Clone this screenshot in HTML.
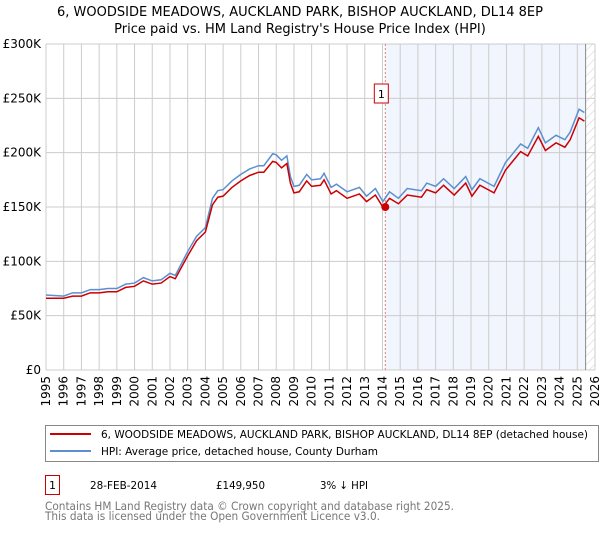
<!DOCTYPE html>
<html><head><meta charset="utf-8"><style>
body{margin:0;background:#fff;font-family:"DejaVu Sans","Liberation Sans",sans-serif;}
svg text{font-family:"DejaVu Sans","Liberation Sans",sans-serif;}
</style></head><body>
<svg id="c" width="600" height="530" viewBox="0 0 600 530" xmlns="http://www.w3.org/2000/svg">
<defs><pattern id="hatch" width="6" height="6" patternUnits="userSpaceOnUse" patternTransform="rotate(45)"><line x1="0" y1="0" x2="0" y2="6" stroke="#ccc" stroke-width="1"/></pattern></defs>
<text x="300" y="16" text-anchor="middle" font-size="13">6, WOODSIDE MEADOWS, AUCKLAND PARK, BISHOP AUCKLAND, DL14 8EP</text>
<text x="300" y="33" text-anchor="middle" font-size="13">Price paid vs. HM Land Registry's House Price Index (HPI)</text>
<g id="plot"></g>
<g>
<rect x="45.5" y="425.5" width="553" height="36" fill="#fff" stroke="#888"/>
<line x1="50" y1="434" x2="91" y2="434" stroke="#cc0000" stroke-width="2"/>
<text x="101" y="438" font-size="11" textLength="487" lengthAdjust="spacingAndGlyphs">6, WOODSIDE MEADOWS, AUCKLAND PARK, BISHOP AUCKLAND, DL14 8EP (detached house)</text>
<line x1="50" y1="451" x2="91" y2="451" stroke="#5b8fd0" stroke-width="2"/>
<text x="101" y="455" font-size="11" textLength="277" lengthAdjust="spacingAndGlyphs">HPI: Average price, detached house, County Durham</text>
</g>
<g>
<rect x="45.5" y="475.5" width="14" height="19" fill="#fff" stroke="#cc0000"/>
<text x="52.5" y="489" text-anchor="middle" font-size="11">1</text>
<text x="90" y="489" font-size="11" textLength="67" lengthAdjust="spacingAndGlyphs">28-FEB-2014</text>
<text x="216" y="489" font-size="11" textLength="49" lengthAdjust="spacingAndGlyphs">£149,950</text>
<text x="320" y="489" font-size="11" textLength="48" lengthAdjust="spacingAndGlyphs">3% ↓ HPI</text>
</g>
<text x="45" y="510" font-size="11.5" fill="#777" textLength="409" lengthAdjust="spacingAndGlyphs">Contains HM Land Registry data © Crown copyright and database right 2025.</text>
<text x="45" y="520" font-size="11.5" fill="#777" textLength="335" lengthAdjust="spacingAndGlyphs">This data is licensed under the Open Government Licence v3.0.</text>
</svg>
<script>
const yTicks=[0,50000,100000,150000,200000,250000,300000];
const yTickLabels=["£0","£50K","£100K","£150K","£200K","£250K","£300K"];
const xTicks=[1995,1996,1997,1998,1999,2000,2001,2002,2003,2004,2005,2006,2007,2008,2009,2010,2011,2012,2013,2014,2015,2016,2017,2018,2019,2020,2021,2022,2023,2024,2025,2026];
const seriesYears=[1995,1996,1996.5,1997,1997.5,1998,1998.5,1999,1999.5,2000,2000.5,2001,2001.5,2002,2002.3,2003,2003.5,2004,2004.4,2004.7,2005,2005.5,2006,2006.5,2007,2007.3,2007.8,2008,2008.3,2008.6,2008.8,2009,2009.3,2009.72,2010,2010.5,2010.7,2011.1,2011.4,2012,2012.7,2013.1,2013.6,2014.02,2014.4,2014.9,2015.4,2016.2,2016.5,2017,2017.45,2018.05,2018.7,2019.05,2019.5,2020.3,2020.95,2021.4,2021.8,2022.2,2022.8,2023.2,2023.8,2024.3,2024.6,2025.1,2025.4];
const hpiValues=[69,68,71,71,74,74,75,75,79,80,85,82,83,89,87,109,123,131,158,165,166,174,180,185,188,188,199,198,193,197,178,169,170,180,175,176,181,168,171,164,168,160,167,155,164,158,167,165,172,169,176,167,178,166,176,169,191,200,208,204,223,209,216,212,219,240,237];
const priceValues=[66,66,68,68,71,71,72,72,76,77,82,79,80,86,84,105,119,127,152,159,160,168,174,179,182,182,192,191,186,190,172,163,164,174,169,170,175,162,165,158,162,155,161,150,158,153,161,159,166,163,170,161,172,160,170,163,184,193,201,197,215,202,209,205,212,232,229];
const saleYear=2014.16, saleValue=149950, saleLabel="1";
const X0=46,X1=595,Y0=370,Y1=44,XMIN=1995,XMAX=2026,YMAX=300000,DATA_END=2025.47;
const xs=v=>X0+(v-XMIN)/(XMAX-XMIN)*(X1-X0);
const ys=v=>Y0-v/YMAX*(Y0-Y1);
const NS="http://www.w3.org/2000/svg";
const g=document.getElementById('plot');
function mk(t,a){const e=document.createElementNS(NS,t);for(const k in a)e.setAttribute(k,a[k]);g.appendChild(e);return e;}
let e;
e=mk('rect',{x:xs(saleYear),y:Y1,width:xs(DATA_END)-xs(saleYear),height:Y0-Y1,fill:'#eef3fc',opacity:0.8});


e=mk('rect',{x:xs(DATA_END),y:Y1,width:X1-xs(DATA_END),height:Y0-Y1,fill:'url(#hatch)'});


yTicks.forEach((v,i)=>{
 e=mk('line',{x1:X0,x2:X1,y1:ys(v),y2:ys(v),stroke:'#ccc'});
 
 
 e=mk('text',{x:X0-5,y:ys(v)+4,'text-anchor':'end','font-size':12});
 e.textContent=yTickLabels[i];
 
 
});
xTicks.forEach(v=>{
 e=mk('line',{x1:xs(v),x2:xs(v),y1:Y1,y2:Y0,stroke:'#ccc'});
 
 
 e=mk('text',{x:0,y:0,'text-anchor':'end','font-size':12,transform:'translate('+(xs(v)+4)+',376) rotate(-90)'});
 e.textContent=v;
 
 
});
e=mk('line',{x1:xs(DATA_END),x2:xs(DATA_END),y1:Y1,y2:Y0,stroke:'#888'});


e=mk('line',{x1:xs(saleYear),x2:xs(saleYear),y1:Y1,y2:Y0,stroke:'#e08080','stroke-dasharray':'2,2'});


e=mk('polyline',{points:seriesYears.map((y,i)=>xs(y)+','+ys(hpiValues[i]*1000)).join(' '),fill:'none',stroke:'#5b8fd0','stroke-width':1.5});


e=mk('polyline',{points:seriesYears.map((y,i)=>xs(y)+','+ys(priceValues[i]*1000)).join(' '),fill:'none',stroke:'#cc0000','stroke-width':1.5});


e=mk('circle',{cx:xs(saleYear),cy:ys(saleValue),r:4,fill:'#cc0000'});


e=mk('rect',{x:xs(saleYear)-11,y:84,width:14,height:19,fill:'#fff',stroke:'#cc0000'});


e=mk('text',{x:xs(saleYear)-4,y:98,'text-anchor':'middle','font-size':11});
e.textContent=saleLabel;


</script>
</body></html>
